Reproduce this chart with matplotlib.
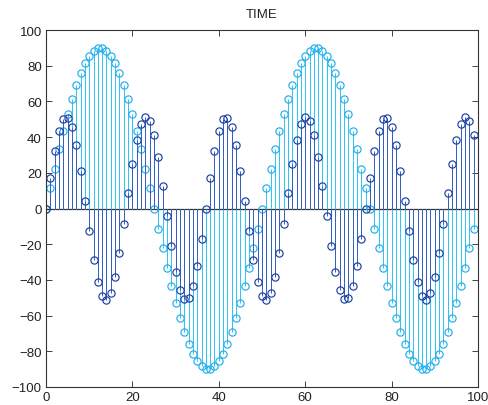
import matplotlib
matplotlib.use("Agg")
import matplotlib.pyplot as plt

plt.rcParams['font.family'] = ['Liberation Sans', 'DejaVu Sans']

title = "TIME"
n = list(range(100))

cyan_half = [0, 11.3, 22.4, 33.1, 43.4, 52.9, 61.6, 69.3, 76.0, 81.4, 85.6, 88.4, 89.8,
             89.8, 88.4, 85.6, 81.4, 76.0, 69.3, 61.6, 52.9, 43.4, 33.1, 22.4, 11.3,
             0, -11.3, -22.4, -33.1, -43.4, -52.9, -61.6, -69.3, -76.0, -81.4, -85.6, -88.4, -89.8,
             -89.8, -88.4, -85.6, -81.4, -76.0, -69.3, -61.6, -52.9, -43.4, -33.1, -22.4, -11.3]
cyan_vals = cyan_half + cyan_half

blue_cycle = [0, 17.0, 32.0, 43.4, 49.9, 50.6, 45.5, 35.3, 21.0, 4.3, -12.8, -28.6, -41.0,
              -48.8, -51.0, -47.3, -38.3, -24.9, -8.6, 8.6, 24.9, 38.3, 47.3, 51.0, 48.8,
              41.0, 28.6, 12.8, -4.3, -21.0, -35.3, -45.5, -50.6, -49.9, -43.4, -32.0, -17.0]
blue_vals = (blue_cycle + blue_cycle + blue_cycle)[:100]

xticks = [0, 20, 40, 60, 80, 100]
yticks = [-100, -80, -60, -40, -20, 0, 20, 40, 60, 80, 100]

fig = plt.figure(figsize=(4.88, 4.06), dpi=100)
ax = fig.add_axes([46/488, 1-388/406, 432/488, 357/406])

def draw(vals, stem_c, mark_c):
    ml, sl, bl = ax.stem(n, vals, basefmt=' ')
    plt.setp(sl, color=stem_c, linewidth=0.72)
    sl.set_snap(True)
    plt.setp(ml, marker='o', markersize=5.2, markerfacecolor='none',
             markeredgecolor=mark_c, markeredgewidth=0.85, linestyle='none')

draw(cyan_vals, '#33C3F5', '#1FB0EC')
draw(blue_vals, '#3562C2', '#1C3FA4')
ax.axhline(0, color='#333333', linewidth=0.9, zorder=1.5)

ax.set_xlim(0, 100)
ax.set_ylim(-100, 100)
ax.set_xticks(xticks)
ax.set_yticks(yticks)
ax.tick_params(direction='in', length=4, width=0.6, top=True, right=True,
               labelsize=9.5, colors='#222222', pad=3)
for s in ax.spines.values():
    s.set_linewidth(0.8)
    s.set_color('#333333')
ax.set_title(title, fontsize=9.5, pad=9, color='#222222')

fig.savefig("out.png", dpi=100)
